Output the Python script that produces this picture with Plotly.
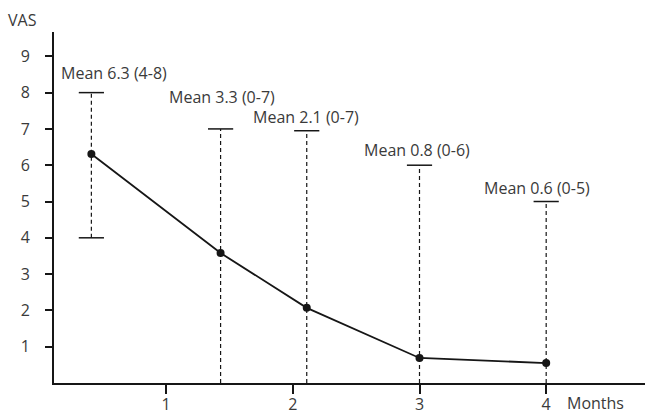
import plotly.graph_objects as go

# ---- data ----
months = [0.41, 1.43, 2.11, 3, 4]            # time point (months)
plotted_vas = [6.31, 3.58, 2.07, 0.69, 0.55]  # plotted VAS values
whisker_low = [4, 0, 0, 0, 0]                 # range low end
whisker_high = [8, 7, 6.95, 6, 5]             # range high end
mean_reported = [6.3, 3.3, 2.1, 0.8, 0.6]     # mean written in labels
range_low_text = [4, 0, 0, 0, 0]
range_high_text = [8, 7, 7, 6, 5]
x_tick_vals = [1, 2, 3, 4]
y_tick_vals = [1, 2, 3, 4, 5, 6, 7, 8, 9]

# label offsets (pixels) relative to the top of each range bar
label_dx = [23, 1, -1, -3, -9]
label_dy = [20, 32, 14, 15, 14]

INK = "#161616"
TXT = "#3a3a3a"
FONT = "Open Sans"
FS = 16

fig = go.Figure()

# dashed range bars
wx, wy = [], []
for x, lo, hi in zip(months, whisker_low, whisker_high):
    wx += [x, x, None]
    wy += [lo, hi, None]
fig.add_trace(go.Scatter(x=wx, y=wy, mode="lines",
                         line=dict(color=INK, width=1.2, dash="4px,3px"),
                         hoverinfo="skip", cliponaxis=False))

# caps
cx = list(months) + [m for m, lo in zip(months, whisker_low) if lo > 0]
cy = list(whisker_high) + [lo for lo in whisker_low if lo > 0]
fig.add_trace(go.Scatter(x=cx, y=cy, mode="markers",
                         marker=dict(symbol="line-ew", size=18,
                                     line=dict(color=INK, width=1.5)),
                         hoverinfo="skip", cliponaxis=False))

# mean line
fig.add_trace(go.Scatter(x=months, y=plotted_vas, mode="lines+markers",
                         line=dict(color=INK, width=1.8),
                         marker=dict(size=8, color=INK),
                         cliponaxis=False))

font = dict(family=FONT, size=FS, color=TXT, weight=400)

annotations = []
for x, hi, m, lo_t, hi_t, dx, dy in zip(months, whisker_high, mean_reported,
                                        range_low_text, range_high_text,
                                        label_dx, label_dy):
    annotations.append(dict(x=x, y=hi, xref="x", yref="y",
                            text=f"Mean {m} ({lo_t}-{hi_t})",
                            showarrow=False, xanchor="center", yanchor="middle",
                            xshift=dx, yshift=dy, font=font))

annotations.append(dict(x=-0.054, y=1.034, xref="paper", yref="paper", text="VAS",
                        showarrow=False, xanchor="center", yanchor="middle", font=font))
annotations.append(dict(x=0.865, y=-0.057, xref="paper", yref="paper", text="Months",
                        showarrow=False, xanchor="left", yanchor="middle", font=font))

fig.update_layout(
    width=645, height=413,
    margin=dict(l=54, r=0, t=32, b=30),
    paper_bgcolor="white", plot_bgcolor="white",
    showlegend=False,
    annotations=annotations,
    font=font,
    xaxis=dict(range=[0.115, 4.78], tickvals=x_tick_vals,
               ticks="outside", ticklen=9, tickwidth=1.5, tickcolor=INK,
               showline=True, linecolor=INK, linewidth=1.8,
               showgrid=False, zeroline=False, automargin=False,
               ticklabelstandoff=-3, tickfont=font),
    yaxis=dict(range=[0, 9.67], tickvals=y_tick_vals,
               ticks="outside", ticklen=7, tickwidth=1.5, tickcolor=INK,
               showline=True, linecolor=INK, linewidth=1.8,
               showgrid=False, zeroline=False, automargin=False,
               ticklabelstandoff=12, tickfont=font),
)

fig.write_html("out.html",
               config={"displayModeBar": False},
               post_script="document.body.style.margin='0';"
                           "document.body.style.overflow='hidden';")
